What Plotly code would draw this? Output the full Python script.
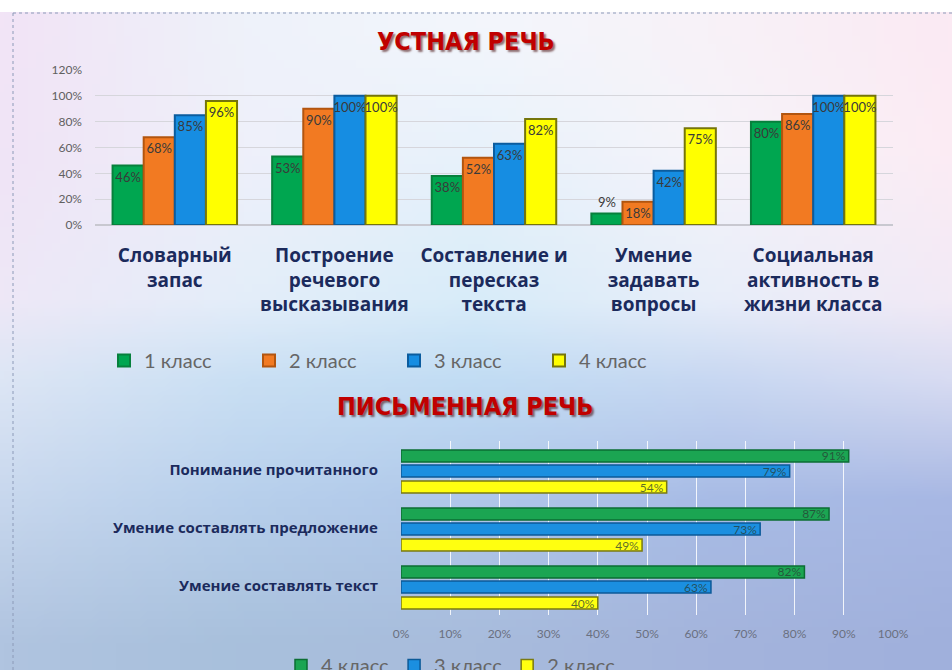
import base64
import struct
import zlib

import numpy as np
import plotly.graph_objects as go

# ---------------- data ----------------
oral_categories = [
    "Словарный<br>запас",
    "Построение<br>речевого<br>высказывания",
    "Составление и<br>пересказ<br>текста",
    "Умение<br>задавать<br>вопросы",
    "Социальная<br>активность в<br>жизни класса",
]
oral_class1 = [46, 53, 38, 9, 80]
oral_class2 = [68, 90, 52, 18, 86]
oral_class3 = [85, 100, 63, 42, 100]
oral_class4 = [96, 100, 82, 75, 100]
oral_names = ["1 класс", "2 класс", "3 класс", "4 класс"]

written_categories = [
    "Понимание прочитанного",
    "Умение составлять предложение",
    "Умение составлять текст",
]
written_class4 = [91, 87, 82]
written_class3 = [79, 73, 63]
written_class2 = [54, 49, 40]
written_names = ["4 класс", "3 класс", "2 класс"]

oral_ticks = [0, 20, 40, 60, 80, 100, 120]
written_ticks = [0, 10, 20, 30, 40, 50, 60, 70, 80, 90, 100]

W, H = 952, 670


def px_x(x):
    return x / W


def px_y(y):
    return 1 - y / H


# ---------------- background gradient image ----------------
grid = [
    ["#f2e4f6", "#eef2fa", "#f3f6fc", "#f8f2f8", "#fbeaf3"],
    ["#f0e4f6", "#eff0fa", "#e8f2fb", "#f6f4fa", "#fcecf4"],
    ["#eee8f7", "#e4eefa", "#d8ecf9", "#e8eefa", "#f2eaf6"],
    ["#dde6f5", "#cae0f4", "#c2ddf4", "#c8d8f2", "#d8dcf2"],
    ["#c8d8ee", "#b8d0ec", "#b0c8ea", "#a8bce6", "#a8b8e4"],
    ["#b0c4e0", "#a8c0dc", "#a8bcdc", "#a4b4dc", "#a0b0dc"],
]
grid_y = [30, 150, 300, 380, 500, 650]
grid_x = [0, 240, 476, 714, 952]
g = np.array([[[int(c[i:i + 2], 16) for i in (1, 3, 5)] for c in row] for row in grid], float)
IW, IH = 119, 84
xs = np.linspace(0, W, IW)
ys = np.linspace(0, H, IH)
img = np.zeros((IH, IW, 3))
for ch in range(3):
    tmp = np.array([np.interp(xs, grid_x, g[r, :, ch]) for r in range(len(grid_y))])
    for j in range(IW):
        img[:, j, ch] = np.interp(ys, grid_y, tmp[:, j])
img = np.clip(img, 0, 255).astype(np.uint8)


def png_uri(a):
    h, w, _ = a.shape
    raw = b"".join(b"\x00" + a[r].tobytes() for r in range(h))

    def chunk(tag, data):
        return struct.pack(">I", len(data)) + tag + data + struct.pack(">I", zlib.crc32(tag + data) & 0xFFFFFFFF)

    png = b"\x89PNG\r\n\x1a\n" + chunk(b"IHDR", struct.pack(">IIBBBBB", w, h, 8, 2, 0, 0, 0))
    png += chunk(b"IDAT", zlib.compress(raw, 9)) + chunk(b"IEND", b"")
    return "data:image/png;base64," + base64.b64encode(png).decode()


# ---------------- figure ----------------
fig = go.Figure()

oral_colors = ["#00a650", "#f27a22", "#168de2", "#ffff00"]
oral_lines = ["#07803c", "#b2550f", "#0b5c9e", "#75750a"]
label_font = dict(family="Lato", size=13, color="#3a3a3a")

for name, vals, col, lc in zip(oral_names, [oral_class1, oral_class2, oral_class3, oral_class4], oral_colors, oral_lines):
    fig.add_trace(go.Bar(
        x=oral_categories, y=vals, name=name,
        marker=dict(color=col, line=dict(color=lc, width=2)),
        text=[f"{v}%" for v in vals],
        textposition=["outside" if v < 15 else "inside" for v in vals],
        insidetextanchor="end",
        constraintext="none",
        textangle=0,
        textfont=label_font,
        cliponaxis=False,
        xaxis="x", yaxis="y", legend="legend",
    ))

w_colors = ["#1ba552", "#1b8fe0", "#ffff10"]
w_lines = ["#0b6e33", "#0c5a98", "#7a7a10"]
bar_w = 0.207
w_offsets = [-0.345, -0.086, 0.19]
for name, vals, col, lc, off in zip(written_names, [written_class4, written_class3, written_class2], w_colors, w_lines, w_offsets):
    fig.add_trace(go.Bar(
        y=written_categories, x=vals, name=name, orientation="h",
        width=bar_w, offset=off,
        marker=dict(color=col, line=dict(color=lc, width=1.5)),
        text=[f"{v}%" for v in vals],
        textposition="inside", insidetextanchor="end", constraintext="none",
        textangle=0,
        textfont=dict(family="Lato", size=12, color="rgba(40,60,50,0.75)"),
        xaxis="x2", yaxis="y2", legend="legend2",
    ))

navy = "#1b2a5c"
grey = "#606060"
title_font = dict(family="DejaVu Sans Condensed, Roboto, sans-serif", size=25, color="#c00000",
                  weight="bold", shadow="2px 2px 2px rgba(60,0,0,0.55)")

fig.update_layout(
    width=W, height=H,
    margin=dict(l=0, r=0, t=0, b=0, autoexpand=False),
    paper_bgcolor="#eef0f8",
    plot_bgcolor="rgba(0,0,0,0)",
    barmode="group", bargap=0.22, bargroupgap=0,
    showlegend=True,
    xaxis=dict(
        domain=[px_x(95), px_x(893)], anchor="y", automargin=False,
        showgrid=False, showline=False, ticks="",
        tickfont=dict(family="Open Sans", size=19, color=navy, weight="bold"),
        ticklabelstandoff=17,
    ),
    yaxis=dict(
        domain=[px_y(225), px_y(70)], anchor="x", automargin=False,
        range=[0, 120], tickvals=oral_ticks, ticktext=[f"{t}%" for t in oral_ticks],
        showgrid=True, gridcolor="#d6d6dc", gridwidth=1,
        zeroline=True, zerolinecolor="#c8c8d0",
        tickfont=dict(family="Lato", size=12, color=grey),
        ticklabelstandoff=12,
    ),
    xaxis2=dict(
        domain=[px_x(401), px_x(893)], anchor="y2", automargin=False,
        range=[0, 100], tickvals=written_ticks, ticktext=[f"{t}%" for t in written_ticks],
        showgrid=True, gridcolor="rgba(255,255,255,0.85)", gridwidth=1,
        zeroline=False,
        tickfont=dict(family="Lato", size=12, color="#6a7080"),
        ticklabelstandoff=10,
    ),
    yaxis2=dict(
        domain=[px_y(615), px_y(441)], anchor="x2", automargin=False,
        autorange="reversed",
        showgrid=False, ticks="",
        tickfont=dict(family="Open Sans", size=15, color=navy, weight="bold"),
        ticklabelstandoff=22,
    ),
    legend=dict(
        orientation="h", x=px_x(104), xanchor="left", y=px_y(341), yanchor="top",
        font=dict(family="Lato", size=20, color="#666666"),
        entrywidth=100, entrywidthmode="pixels",
        bgcolor="rgba(0,0,0,0)", traceorder="normal",
    ),
    legend2=dict(
        orientation="h", x=px_x(281), xanchor="left", y=px_y(646), yanchor="top",
        font=dict(family="Lato", size=20, color="#666666"),
        bgcolor="rgba(0,0,0,0)", traceorder="normal",
    ),
    images=[dict(
        source=png_uri(img), xref="paper", yref="paper", x=0, y=1,
        sizex=1, sizey=1, sizing="stretch", layer="below", xanchor="left", yanchor="top",
    )],
    shapes=[
        dict(type="rect", xref="paper", yref="paper", x0=0, x1=1, y0=px_y(12), y1=1,
             fillcolor="white", line=dict(width=0), layer="below"),
        dict(type="line", xref="paper", yref="paper", x0=px_x(13), x1=1, y0=px_y(13), y1=px_y(13),
             line=dict(color="#8c9ab8", width=1, dash="dot")),
        dict(type="line", xref="paper", yref="paper", x0=px_x(13), x1=px_x(13), y0=0, y1=px_y(13),
             line=dict(color="#8c9ab8", width=1, dash="dot")),
    ],
    annotations=[
        dict(text="УСТНАЯ РЕЧЬ", xref="paper", yref="paper", x=px_x(466), y=px_y(42),
             xanchor="center", yanchor="middle", showarrow=False, font=title_font),
        dict(text="ПИСЬМЕННАЯ РЕЧЬ", xref="paper", yref="paper", x=px_x(465), y=px_y(406),
             xanchor="center", yanchor="middle", showarrow=False, font=title_font),
    ],
)

fig.write_html(
    "out.html",
    config={"displayModeBar": False},
    post_script="document.body.style.margin='0';document.body.style.overflow='hidden';",
)
